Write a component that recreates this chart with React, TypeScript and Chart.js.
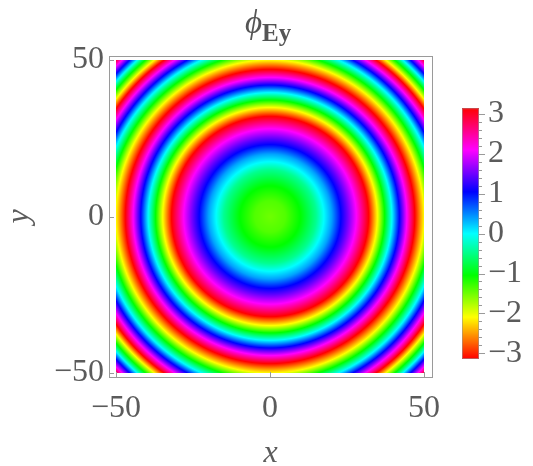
import React, { useEffect, useRef } from "react";
import { Chart, registerables } from "chart.js";
Chart.register(...registerables);

// Radial profile of the (unwrapped) phase of E_y
const profileRadius = [0, 5, 10, 15, 17.5, 20, 23, 25, 28, 32, 35, 38, 41, 44, 47, 50, 55, 60, 65, 71];
const profilePhase = [-1.5, -1.38, -1.03, -0.45, 0.0, 0.38, 1.05, 1.45, 2.09, 3.14, 4.25, 5.6, 6.9, 8.2, 9.42, 10.47, 12.7, 15.3, 18.2, 22.0];

// Plot domain and ticks
const xDomain = [-50, 50];
const yDomain = [-50, 50];
const xTicks = [-50, 0, 50];
const yTicks = [-50, 0, 50];
const cbTicks = [-3, -2, -1, 0, 1, 2, 3];
const cbMinorStep = 0.2;

const SERIF = "'Liberation Serif', 'DejaVu Serif', serif";
const TEXT = "#5b5b5b";
const FRAME = "#9a9a9a";

const fmt = (v: number) => (v < 0 ? "\u2212" + Math.abs(v) : String(v));

function phaseAt(r: number): number {
  const n = profileRadius.length;
  if (r <= profileRadius[0]) return profilePhase[0];
  for (let k = 1; k < n; k++) {
    if (r <= profileRadius[k]) {
      const t = (r - profileRadius[k - 1]) / (profileRadius[k] - profileRadius[k - 1]);
      return profilePhase[k - 1] + t * (profilePhase[k] - profilePhase[k - 1]);
    }
  }
  return profilePhase[n - 1];
}

function hueRGB(phi: number): [number, number, number] {
  const TWO = 2 * Math.PI;
  const w = (((phi + Math.PI) % TWO) + TWO) % TWO; // 0..2π
  const h6 = (w / TWO) * 6;
  const i = Math.floor(h6) % 6;
  const f = h6 - Math.floor(h6);
  let c: [number, number, number];
  switch (i) {
    case 0: c = [1, f, 0]; break;
    case 1: c = [1 - f, 1, 0]; break;
    case 2: c = [0, 1, f]; break;
    case 3: c = [0, 1 - f, 1]; break;
    case 4: c = [f, 0, 1]; break;
    default: c = [1, 0, 1 - f];
  }
  return [Math.round(c[0] * 255), Math.round(c[1] * 255), Math.round(c[2] * 255)];
}

const heatmapPlugin = {
  id: "heatmap",
  beforeDatasetsDraw(chart: any) {
    const { ctx, scales } = chart;
    const x = scales.x, y = scales.y;
    const left = x.getPixelForValue(xDomain[0]);
    const right = x.getPixelForValue(xDomain[1]);
    const top = y.getPixelForValue(yDomain[1]);
    const bottom = y.getPixelForValue(yDomain[0]);
    const W = Math.max(1, Math.round(right - left));
    const H = Math.max(1, Math.round(bottom - top));
    const off = document.createElement("canvas");
    off.width = W; off.height = H;
    const octx = off.getContext("2d")!;
    const img = octx.createImageData(W, H);
    for (let j = 0; j < H; j++) {
      const yv = y.getValueForPixel(top + ((j + 0.5) * (bottom - top)) / H);
      for (let i = 0; i < W; i++) {
        const xv = x.getValueForPixel(left + ((i + 0.5) * (right - left)) / W);
        const [r, g, b] = hueRGB(phaseAt(Math.hypot(xv, yv)));
        const p = (j * W + i) * 4;
        img.data[p] = r; img.data[p + 1] = g; img.data[p + 2] = b; img.data[p + 3] = 255;
      }
    }
    octx.putImageData(img, 0, 0);
    ctx.save();
    ctx.drawImage(off, left, top, right - left, bottom - top);
    ctx.restore();
  },
  afterDatasetsDraw(chart: any) {
    const { ctx, chartArea: a, scales } = chart;
    ctx.save();
    ctx.strokeStyle = FRAME;
    ctx.lineWidth = 1;
    ctx.strokeRect(Math.round(a.left) + 0.5, Math.round(a.top) + 0.5, Math.round(a.right - a.left), Math.round(a.bottom - a.top));
    ctx.beginPath();
    for (const v of xTicks) {
      const px = Math.round(scales.x.getPixelForValue(v)) + 0.5;
      ctx.moveTo(px, a.bottom);
      ctx.lineTo(px, a.bottom - 5);
    }
    for (const v of yTicks) {
      const py = Math.round(scales.y.getPixelForValue(v)) + 0.5;
      ctx.moveTo(a.left, py);
      ctx.lineTo(a.left + 5, py);
    }
    ctx.stroke();
    ctx.restore();
  },
};

const colorbarPlugin = {
  id: "colorbar",
  beforeDatasetsDraw(chart: any) {
    const { ctx, chartArea: a, scales } = chart;
    const y = scales.y;
    ctx.save();
    for (let py = Math.floor(a.top); py < Math.ceil(a.bottom); py++) {
      const v = y.getValueForPixel(py + 0.5);
      const [r, g, b] = hueRGB(v);
      ctx.fillStyle = `rgb(${r},${g},${b})`;
      ctx.fillRect(a.left, py, a.right - a.left, 1);
    }
    ctx.strokeStyle = "rgba(150,150,150,0.6)";
    ctx.lineWidth = 1;
    ctx.strokeRect(a.left + 0.5, a.top + 0.5, a.right - a.left - 1, a.bottom - a.top - 1);
    ctx.strokeStyle = FRAME;
    ctx.beginPath();
    const nMinor = Math.round((y.max - y.min) / cbMinorStep);
    const start = Math.ceil(y.min / cbMinorStep);
    for (let k = start; k <= start + nMinor; k++) {
      const v = k * cbMinorStep;
      if (v < y.min || v > y.max) continue;
      const major = Math.abs(v - Math.round(v)) < 1e-6;
      const py = Math.round(y.getPixelForValue(v)) + 0.5;
      ctx.moveTo(a.right, py);
      ctx.lineTo(a.right + (major ? 6 : 3), py);
    }
    ctx.stroke();
    ctx.restore();
  },
};

export default function App() {
  const mainRef = useRef<HTMLCanvasElement>(null);
  const cbRef = useRef<HTMLCanvasElement>(null);

  useEffect(() => {
    const main = new Chart(mainRef.current!, {
      type: "scatter",
      data: { datasets: [{ data: [], pointRadius: 0 }] },
      options: {
        responsive: false,
        animation: false,
        devicePixelRatio: 1,
        events: [],
        layout: { padding: { left: 0, right: 101, top: 56, bottom: 0 } },
        plugins: { legend: { display: false }, tooltip: { enabled: false }, title: { display: false } },
        scales: {
          x: {
            type: "linear",
            min: -52.3,
            max: 52.6,
            afterBuildTicks: (s: any) => { s.ticks = xTicks.map((v) => ({ value: v })); },
            afterFit: (s: any) => { s.height = 89; },
            grid: { display: false, drawTicks: false },
            border: { display: false },
            ticks: { padding: 12, autoSkip: false, maxRotation: 0, color: TEXT, font: { family: SERIF, size: 32 }, callback: (v: any) => fmt(Number(v)) },
            title: { display: true, text: "x", color: TEXT, padding: 0, font: { family: SERIF, size: 32, style: "italic", lineHeight: 0.8 } },
          },
          y: {
            type: "linear",
            min: -51.3,
            max: 51.3,
            afterBuildTicks: (s: any) => { s.ticks = yTicks.map((v) => ({ value: v })); },
            afterFit: (s: any) => { s.width = 109; },
            grid: { display: false, drawTicks: false },
            border: { display: false },
            ticks: { padding: 5, autoSkip: false, color: TEXT, font: { family: SERIF, size: 32 }, callback: (v: any) => fmt(Number(v)) },
            title: { display: true, text: "y", color: TEXT, padding: { top: 4, bottom: 0 }, font: { family: SERIF, size: 32, style: "italic", lineHeight: 1 } },
          },
        },
      },
      plugins: [heatmapPlugin],
    } as any);

    const cb = new Chart(cbRef.current!, {
      type: "scatter",
      data: { datasets: [{ data: [], pointRadius: 0 }] },
      options: {
        responsive: false,
        animation: false,
        devicePixelRatio: 1,
        events: [],
        layout: { padding: { left: 22, right: 0, top: 20, bottom: 31 } },
        plugins: { legend: { display: false }, tooltip: { enabled: false } },
        scales: {
          x: { type: "linear", display: false, min: 0, max: 1 },
          y: {
            type: "linear",
            position: "right",
            min: -Math.PI,
            max: Math.PI,
            afterBuildTicks: (s: any) => { s.ticks = cbTicks.map((v) => ({ value: v })); },
            afterFit: (s: any) => { s.width = 54; },
            grid: { display: false, drawTicks: false },
            border: { display: false },
            ticks: { padding: 9, autoSkip: false, color: TEXT, font: { family: SERIF, size: 32 }, callback: (v: any) => fmt(Number(v)) },
          },
        },
      },
      plugins: [colorbarPlugin],
    } as any);

    return () => { main.destroy(); cb.destroy(); };
  }, []);

  return (
    <div style={{ position: "absolute", left: 0, top: 0, width: 533, height: 466, background: "#fff", overflow: "hidden" }}>
      <canvas ref={mainRef} width={533} height={466} style={{ position: "absolute", left: 0, top: 0, width: 533, height: 466 }} />
      <canvas ref={cbRef} width={93} height={310} style={{ position: "absolute", left: 440, top: 80, width: 93, height: 310 }} />
      <div style={{ position: "absolute", left: 245, top: 6, fontFamily: SERIF, color: "#555", whiteSpace: "nowrap", lineHeight: 1 }}>
        <span style={{ fontStyle: "italic", fontSize: 33 }}>{"\u03D5"}</span>
        <span style={{ fontWeight: "bold", fontSize: 25, position: "relative", top: 8 }}>Ey</span>
      </div>
    </div>
  );
}
